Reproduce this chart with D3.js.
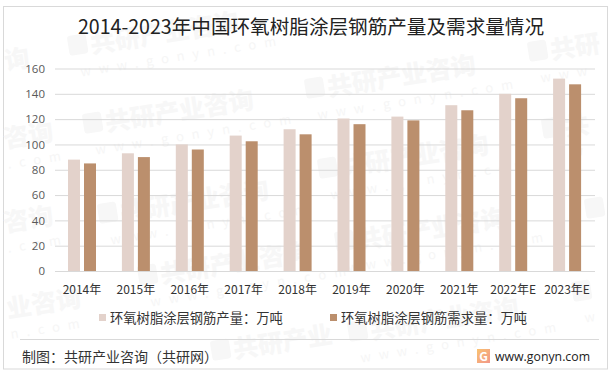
<!DOCTYPE html>
<html>
<head>
<meta charset="utf-8">
<script src="https://cdn.jsdelivr.net/npm/d3@7"></script>
<style>
html, body { margin: 0; padding: 0; background: #fff; }
svg { display: block; }
text { font-family: "Noto Sans CJK SC", "Open Sans", sans-serif; }
</style>
</head>
<body>
<div id="chart"></div>
<script>
var years = ["2014年", "2015年", "2016年", "2017年", "2018年", "2019年", "2020年", "2021年", "2022年E", "2023年E"];
var output = [88, 93, 100, 107, 112, 120.5, 122, 131, 140, 152];
var demand = [85, 90, 96, 102.5, 108, 116, 119, 127, 136.5, 147.5];
var yTicks = [0, 20, 40, 60, 80, 100, 120, 140, 160];
var seriesNames = ["环氧树脂涂层钢筋产量：万吨", "环氧树脂涂层钢筋需求量：万吨"];
var seriesColors = ["#e3d2cb", "#bb8f6d"];
var titleText = "2014-2023年中国环氧树脂涂层钢筋产量及需求量情况";
var sourceText = "制图：共研产业咨询（共研网）";
var siteText = "www.gonyn.com";
// watermark pieces: x, y, big text, small text, with logo or not
var marks = [
    [6, 70, "询", "", 0], [5, 148, "咨询", ".com", 0], [5, 232, "咨询", ".com", 0], [8, 318, "业咨询", "n.com", 0],
    [70, 57, "共研产业咨询", "www.gonyn.com", 1], [85, 135, "共研产业咨询", "www.gonyn.com", 1],
    [100, 225, "共研产业咨询", "www.gonyn.com", 1], [140, 287, "共研产业咨询", "www.gonyn.com", 1],
    [213, 362, "共研产业", "", 1], [307, 100, "共研产业咨询", "www.gonyn.com", 1],
    [320, 180, "共研产业咨询", "www.gonyn.com", 1], [337, 253, "共研产业咨询", "www.gonyn.com", 1],
    [350, 343, "共研产业咨询", "www.gonyn.com", 1], [530, 63, "共研", "www", 1],
    [544, 140, "共", "ww", 1], [587, 220, "", "", 1], [574, 303, "", "w", 1]];

var width = 614, height = 377;
var margin = { top: 68.5, right: 20, bottom: 106, left: 55 };
var innerW = width - margin.left - margin.right;
var innerH = height - margin.top - margin.bottom;

var svg = d3.select("#chart").append("svg")
    .attr("width", width)
    .attr("height", height);

// frame
svg.append("rect")
    .attr("x", 3.5).attr("y", 6.5)
    .attr("width", 604).attr("height", 362.5)
    .attr("fill", "#fff")
    .attr("stroke", "#d9d9d9")
    .attr("stroke-width", 1);

// watermark
var wm = svg.append("g").selectAll("g")
    .data(marks)
    .enter().append("g")
    .attr("transform", function (d) {
        return "translate(" + d[0] + "," + d[1] + ") rotate(-9)";
    });
wm.append("text")
    .attr("x", function (d) { return d[4] ? 22 : 0; })
    .attr("font-size", 25)
    .attr("font-weight", 900)
    .attr("fill", "#f7f7f7")
    .text(function (d) { return d[2]; });
wm.filter(function (d) { return d[4]; }).append("rect")
    .attr("y", -21)
    .attr("width", 19).attr("height", 20)
    .attr("rx", 3)
    .attr("fill", "#f7f7f7");
wm.append("text")
    .attr("x", function (d) { return d[4] ? 8 : 0; }).attr("y", 21)
    .attr("font-size", 13)
    .attr("letter-spacing", 8)
    .attr("fill", "#f6f6f6")
    .text(function (d) { return d[3]; });

var g = svg.append("g").attr("transform", "translate(" + margin.left + "," + margin.top + ")");

var x = d3.scaleBand()
    .domain(years)
    .range([0, innerW]);

var y = d3.scaleLinear()
    .domain([0, 160])
    .range([innerH, 0]);

var yAxis = g.append("g")
    .call(d3.axisLeft(y).tickValues(yTicks).tickSize(-innerW - 1).tickPadding(10));
yAxis.select(".domain").remove();
yAxis.selectAll("line").attr("stroke", "#d9d9d9").attr("stroke-width", 1);
yAxis.selectAll("text")
    .attr("font-size", 11.5)
    .attr("fill", "#595959")
    .style("font-family", "'Open Sans', sans-serif");

var bars = [output, demand];
bars.forEach(function (vals, s) {
    g.append("g")
        .attr("fill", seriesColors[s])
        .selectAll("rect")
        .data(vals)
        .enter().append("rect")
        .attr("x", function (d, i) {
            return x(years[i]) + 13 + s * 16;
        })
        .attr("y", function (d) { return y(d); })
        .attr("width", 12)
        .attr("height", function (d) { return innerH - y(d); });
});

var xAxis = g.append("g")
    .attr("transform", "translate(0," + innerH + ")")
    .call(d3.axisBottom(x).tickSize(0).tickPadding(14));
xAxis.select(".domain").attr("stroke", "#d9d9d9");
xAxis.selectAll("text")
    .attr("font-size", 12)
    .attr("fill", "#333");

// title
svg.append("text")
    .attr("x", 311).attr("y", 34)
    .attr("text-anchor", "middle")
    .attr("font-size", 19.6)
    .attr("fill", "#222")
    .text(titleText);

// legend
var legendX = [99, 330];
var legend = svg.append("g").selectAll("g")
    .data(seriesNames)
    .enter().append("g")
    .attr("transform", function (d, i) {
        return "translate(" + legendX[i] + ",314)";
    });
legend.append("rect")
    .attr("width", 7).attr("height", 7)
    .attr("fill", function (d, i) { return seriesColors[i]; });
legend.append("text")
    .attr("x", 11).attr("y", 9)
    .attr("font-size", 13.3)
    .attr("fill", "#333")
    .text(function (d) { return d; });

// footer
svg.append("line")
    .attr("x1", 20).attr("x2", 599)
    .attr("y1", 339.5).attr("y2", 339.5)
    .attr("stroke", "#d9d9d9");
svg.append("text")
    .attr("x", 22).attr("y", 362)
    .attr("font-size", 14)
    .attr("fill", "#333")
    .text(sourceText);

var defs = svg.append("defs");
var grad = defs.append("linearGradient").attr("id", "logo").attr("x2", 1).attr("y2", 1);
grad.append("stop").attr("offset", 0).attr("stop-color", "#f9c270");
grad.append("stop").attr("offset", 1).attr("stop-color", "#f2978a");
svg.append("rect")
    .attr("x", 477).attr("y", 349)
    .attr("width", 13).attr("height", 14)
    .attr("fill", "url(#logo)");
svg.append("text")
    .attr("x", 483.5).attr("y", 360.5)
    .attr("text-anchor", "middle")
    .attr("font-size", 12)
    .attr("font-weight", 700)
    .attr("fill", "#fff")
    .text("G");
svg.append("text")
    .attr("x", 495).attr("y", 361)
    .attr("font-size", 12.3)
    .attr("fill", "#222")
    .style("font-family", "'Open Sans', sans-serif")
    .text(siteText);
</script>
</body>
</html>
